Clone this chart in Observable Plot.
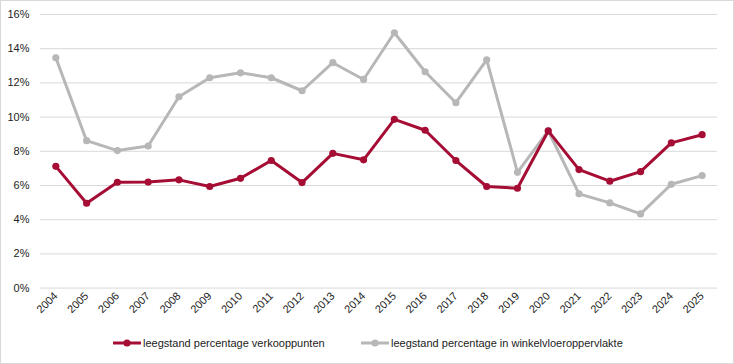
<!DOCTYPE html>
<html>
<head>
<meta charset="utf-8">
<script src="https://cdn.jsdelivr.net/npm/d3@7"></script>
<script src="https://cdn.jsdelivr.net/npm/@observablehq/plot@0.6"></script>
<style>
  html, body { margin: 0; padding: 0; background: #fff; }
  #wrap { position: relative; width: 734px; height: 364px; box-sizing: border-box; border: 1px solid #d9d9d9; overflow: hidden; font-family: "Liberation Sans", Arial, sans-serif; }
  #chart { position: absolute; left: -1px; top: -1px; }
  #legend { position: absolute; left: 0; top: 336px; width: 100%; font-size: 11px; color: #222; }
  .item { position: absolute; display: flex; align-items: center; white-space: nowrap; }
  .item svg { margin-right: 2px; }
</style>
</head>
<body>
<div id="wrap">
  <div id="chart"></div>
  <div id="legend"></div>
</div>
<script>
const years = ["2004","2005","2006","2007","2008","2009","2010","2011","2012","2013","2014","2015","2016","2017","2018","2019","2020","2021","2022","2023","2024","2025"];
const verkooppunten = [7.12, 4.96, 6.19, 6.2, 6.33, 5.94, 6.42, 7.46, 6.17, 7.88, 7.5, 9.87, 9.23, 7.46, 5.94, 5.84, 9.19, 6.93, 6.25, 6.81, 8.49, 8.97];
const vloeroppervlakte = [13.47, 8.62, 8.04, 8.31, 11.19, 12.30, 12.59, 12.30, 11.54, 13.18, 12.2, 14.93, 12.65, 10.84, 13.35, 6.77, 9.2, 5.51, 4.98, 4.34, 6.07, 6.58];
const yTicks = [0, 2, 4, 6, 8, 10, 12, 14, 16];
const seriesNames = ["leegstand percentage verkooppunten", "leegstand percentage in winkelvloeroppervlakte"];
const colors = ["#a50d34", "#b7b7b7"];

const rows = years.map((y, i) => ({year: y, value: verkooppunten[i], series: seriesNames[0]}));
const rows2 = years.map((y, i) => ({year: y, value: vloeroppervlakte[i], series: seriesNames[1]}));

const chart = Plot.plot({
  width: 734,
  height: 326,
  marginLeft: 40,
  marginRight: 16,
  marginTop: 14,
  marginBottom: 38,
  style: {fontFamily: "Liberation Sans, Arial, sans-serif", fontSize: "11px", color: "#222", background: "transparent"},
  x: {type: "band", domain: years, padding: 0, round: false, label: null, tickSize: 0, tickRotate: -45, tickPadding: 6},
  y: {domain: [0, 16], ticks: yTicks, tickFormat: d => d + "%", label: null, tickSize: 0, tickPadding: 11},
  marks: [
    Plot.gridY(yTicks, {stroke: "#d9d9d9", strokeOpacity: 1, strokeWidth: 1}),
    Plot.line(rows2, {x: "year", y: "value", stroke: colors[1], strokeWidth: 3}),
    Plot.dot(rows2, {x: "year", y: "value", fill: colors[1], r: 3.6}),
    Plot.line(rows, {x: "year", y: "value", stroke: colors[0], strokeWidth: 3}),
    Plot.dot(rows, {x: "year", y: "value", fill: colors[0], r: 3.6})
  ]
});
document.getElementById("chart").appendChild(chart);

const legend = document.getElementById("legend");
const lefts = [112, 360];
seriesNames.forEach((name, i) => {
  const item = document.createElement("div");
  item.className = "item";
  item.style.left = lefts[i] + "px";
  item.innerHTML = `<svg width="28" height="10"><line x1="0" y1="5" x2="28" y2="5" stroke="${colors[i]}" stroke-width="3"/><circle cx="14" cy="5" r="3.6" fill="${colors[i]}"/></svg>`;
  const span = document.createElement("span");
  span.textContent = name;
  item.appendChild(span);
  legend.appendChild(item);
});
</script>
</body>
</html>
